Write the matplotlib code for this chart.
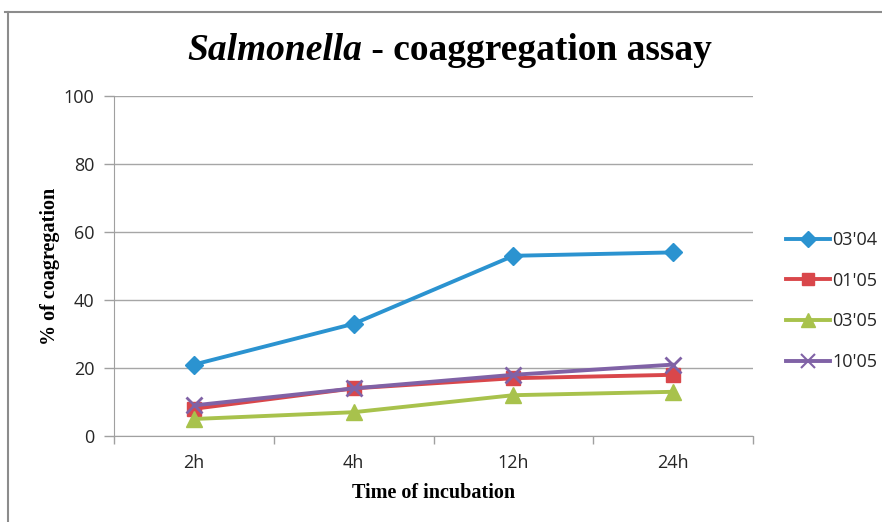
import matplotlib
matplotlib.use("Agg")
import matplotlib.pyplot as plt
from matplotlib.lines import Line2D
import numpy as np

categories = ["2h", "4h", "12h", "24h"]
series_names = ["03'04", "01'05", "03'05", "10'05"]
s_0304 = [21, 33, 53, 54]
s_0105 = [8, 14, 17, 18]
s_0305 = [5, 7, 12, 13]
s_1005 = [9, 14, 18, 21]
yticks = [0, 20, 40, 60, 80, 100]

colors = ["#2B93D0", "#D9474B", "#A8C24C", "#8062A6"]
markers = ["D", "s", "^", "x"]
msizes = [9, 10, 11, 11]

fig = plt.figure(figsize=(8.82, 5.22), dpi=100)
W, H = 882, 522
ax = fig.add_axes([114 / W, 1 - 436 / H, (753 - 114) / W, (436 - 96) / H])

x = np.arange(len(categories))
data = [s_0304, s_0105, s_0305, s_1005]
for vals, c, m, ms, name in zip(data, colors, markers, msizes, series_names):
    kw = dict(color=c, lw=2.8, marker=m, ms=ms, label=name, solid_capstyle="round")
    if m == "x":
        kw.update(mew=2.0)
    else:
        kw.update(mec=c, mfc=c)
    ax.plot(x, vals, **kw)

ax.set_xlim(-0.5, len(categories) - 0.5)
ax.set_ylim(0, 100)
ax.set_yticks(yticks)
ax.set_xticks(x)
ax.set_xticklabels(categories)
ax.set_xticks(np.arange(-0.5, len(categories), 1), minor=True)
ax.tick_params(axis="x", which="major", length=0, pad=13)
ax.tick_params(axis="x", which="minor", length=6, color="#A0A0A0", width=1)
ax.tick_params(axis="y", length=7, color="#A0A0A0", width=1, pad=7)
for lab in ax.get_xticklabels() + ax.get_yticklabels():
    lab.set_fontfamily("Open Sans")
    lab.set_fontsize(13)
    lab.set_color("#262626")
ax.grid(axis="y", color="#A6A6A6", lw=1)
ax.set_axisbelow(True)
for s in ["top", "right"]:
    ax.spines[s].set_visible(False)
ax.spines["left"].set_color("#A0A0A0")
ax.spines["bottom"].set_color("#A0A0A0")

ax.set_ylabel("% of coagregation", fontfamily="Liberation Serif", fontweight="bold",
              fontsize=14.5, labelpad=3)
ax.set_xlabel("Time of incubation", fontfamily="Liberation Serif", fontweight="bold",
              fontsize=14.5, labelpad=8)

# Title: italic genus name + bold rest, centred as a whole
fig.canvas.draw()
renderer = fig.canvas.get_renderer()
ty = 1 - 50 / H
t1 = fig.text(0, ty, "Salmonella", fontfamily="Liberation Serif",
              fontstyle="italic", fontweight="bold", fontsize=27, ha="left", va="center")
t2 = fig.text(0, ty, " - coaggregation assay", fontfamily="Liberation Serif",
              fontweight="bold", fontsize=27, ha="left", va="center")
w1 = t1.get_window_extent(renderer).width
w2 = t2.get_window_extent(renderer).width
x0 = 450 - (w1 + w2) / 2
t1.set_x(x0 / W)
t2.set_x((x0 + w1) / W)

# Legend
handles = []
for c, m, ms in zip(colors, markers, msizes):
    kw = dict(color=c, lw=2.8, marker=m, ms=ms * 0.9)
    if m == "x":
        kw.update(mew=1.5)
    handles.append(Line2D([], [], **kw))
leg = fig.legend(handles, series_names, loc="center left",
                 bbox_to_anchor=(770 / W, 1 - 301 / H), frameon=False,
                 handlelength=2.4, labelspacing=1.25, handletextpad=0.15,
                 prop={"family": "Open Sans", "size": 13})
for t in leg.get_texts():
    t.set_color("#262626")

# outer border (top and left)
fig.add_artist(Line2D([5 / W, 1], [1 - 12 / H, 1 - 12 / H], color="#8C8C8C", lw=1.5,
                      transform=fig.transFigure))
fig.add_artist(Line2D([8 / W, 8 / W], [0, 1 - 12 / H], color="#8C8C8C", lw=1.5,
                      transform=fig.transFigure))

fig.savefig("out.png", dpi=100)
